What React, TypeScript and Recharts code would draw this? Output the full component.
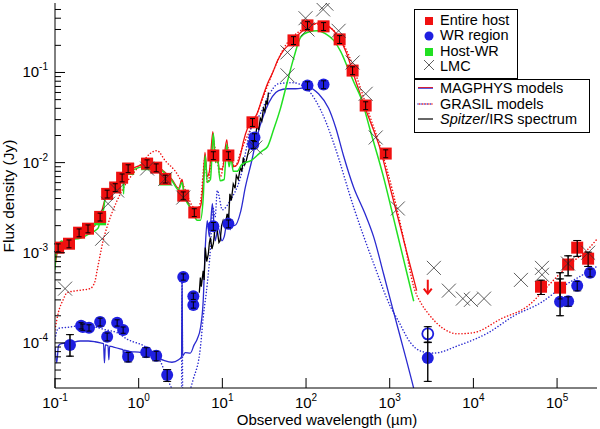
import React from "react";
import { ComposedChart, Line, Scatter, XAxis, YAxis, ErrorBar } from "recharts";

const FONT = "'Liberation Sans', Arial, Helvetica, sans-serif";
const RED = "#f01010";
const BLUE = "#1f1fe0";
const BLUE_LINE = "#2a2ad0";
const GREEN = "#22e022";

// photometry: entire host (red squares)
const hostLam = [0.109, 0.147, 0.194, 0.248, 0.346, 0.42, 0.524, 0.634, 0.748, 1.26, 1.62, 2.08, 3.41, 4.62, 7.8, 11.8, 22.9, 70.8, 104, 162, 252, 360, 516, 896, 64300, 108600, 135500, 174000, 235000];
const hostFlux = [1.14e-3, 1.26e-3, 1.67e-3, 1.85e-3, 2.5e-3, 4.5e-3, 5.3e-3, 6.8e-3, 8.6e-3, 9.75e-3, 8.8e-3, 6.6e-3, 4.3e-3, 2.8e-3, 1.2e-2, 1.2e-2, 2.8e-2, 0.227, 0.333, 0.325, 0.233, 0.105, 0.043, 0.0126, 4.2e-4, 4.1e-4, 7.4e-4, 1.14e-3, 8.6e-4];
const hostErr = [0.1, 0.1, 0.1, 0.1, 0.1, 0.1, 0.1, 0.1, 0.1, 0.1, 0.1, 0.1, 0.1, 0.1, 0.1, 0.1, 0.1, 0.1, 0.1, 0.1, 0.1, 0.1, 0.1, 0.1, 0.18, 0.25, 0.25, 0.2, 0.18];
// upper limit (arrow)
const hostLimLam = [2850];
const hostLimFlux = [4.2e-4];

// WR region (blue circles)
const wrLam = [0.151, 0.205, 0.215, 0.255, 0.346, 0.42, 0.553, 0.652, 0.748, 1.23, 1.62, 2.19, 3.41, 4.5, 4.5, 7.8, 11.8, 24.2, 23.4, 104, 162, 2850, 108600, 135500, 174000, 248000];
const wrFlux = [9.5e-5, 1.55e-4, 1.5e-4, 1.47e-4, 1.71e-4, 1.17e-4, 1.67e-4, 1.39e-4, 7.0e-5, 7.9e-5, 7.2e-5, 4.4e-5, 5.4e-4, 3.3e-4, 2.64e-4, 1.97e-3, 2.1e-3, 1.9e-2, 1.6e-2, 0.0717, 0.0735, 6.8e-5, 2.86e-4, 2.9e-4, 4.3e-4, 6.0e-4];
const wrErrLo = [0.25, 0.08, 0.08, 0.08, 0.1, 0.1, 0.08, 0.08, 0.12, 0.12, 0.12, 0.15, 0.08, 0.08, 0.08, 0.1, 0.1, 0.1, 0.1, 0.1, 0.1, 0.45, 0.3, 0.12, 0.12, 0.1];
const wrErrHi = [0.3, 0.08, 0.08, 0.08, 0.1, 0.1, 0.08, 0.08, 0.12, 0.12, 0.12, 0.15, 0.08, 0.08, 0.08, 0.1, 0.1, 0.1, 0.1, 0.1, 0.1, 0.5, 1.1, 0.12, 0.12, 0.1];
const wrOpenLam = [2850];
const wrOpenFlux = [1.26e-4];

// host minus WR (green squares, mostly under the red ones)
const diffLam = [0.346, 0.748, 1.26, 2.08];
const diffFlux = [2.35e-3, 8.5e-3, 9.6e-3, 6.5e-3];

// LMC scaled (crosses)
const lmcLam = [0.132, 0.366, 0.431, 0.553, 1.26, 2.08, 3.41, 24.8, 60, 60, 98.6, 104, 160, 175, 245, 360, 516, 680, 1250, 3370, 5090, 7480, 9330, 13400, 37000, 66000, 66000, 135000, 235000];
const lmcFlux = [4.0e-4, 1.43e-3, 3.5e-3, 4.9e-3, 8.6e-3, 6.6e-3, 4.1e-3, 1.47e-2, 0.167, 0.093, 0.4, 0.3, 0.5, 0.58, 0.29, 0.129, 0.058, 0.019, 3.1e-3, 6.8e-4, 3.8e-4, 3.1e-4, 3.0e-4, 3.1e-4, 5.0e-4, 6.8e-4, 5.7e-4, 7.6e-4, 1.0e-3];

// MAGPHYS host (red solid)
const magHostLam = [0.1, 0.105, 0.11, 0.13, 0.16, 0.2, 0.25, 0.3, 0.35, 0.4, 0.45, 0.5, 0.6, 0.7, 0.8, 1.0, 1.3, 1.6, 2.0, 2.5, 3.0, 3.3, 3.5, 4.0, 4.5, 5.0, 5.5, 5.9, 6.2, 6.6, 7.0, 7.7, 8.2, 8.6, 9.2, 10, 11.3, 12, 12.7, 13.5, 15, 16.4, 17.8, 20, 23, 26, 30, 34.6, 40, 45.7, 55, 65, 80, 100, 120, 141, 170, 214, 250, 300, 392, 500, 600, 780, 1000, 1356, 1700, 2100];
const magHostFlux = [7e-4, 9.5e-4, 1.15e-3, 1.3e-3, 1.4e-3, 1.55e-3, 1.75e-3, 2.0e-3, 2.6e-3, 4.0e-3, 4.8e-3, 5.5e-3, 6.6e-3, 7.5e-3, 8.3e-3, 9.2e-3, 9.6e-3, 9.3e-3, 8.0e-3, 6.5e-3, 5.2e-3, 6.5e-3, 4.5e-3, 3.4e-3, 2.9e-3, 2.9e-3, 3.3e-3, 6e-3, 1.3e-2, 7e-3, 8e-3, 2.2e-2, 1.1e-2, 1.3e-2, 8.5e-3, 8.5e-3, 1.8e-2, 1.0e-2, 1.3e-2, 9e-3, 9.5e-3, 1.2e-2, 1.7e-2, 2.4e-2, 2.9e-2, 3.5e-2, 5.2e-2, 7.5e-2, 0.1, 0.136, 0.18, 0.21, 0.26, 0.31, 0.34, 0.355, 0.34, 0.29, 0.24, 0.17, 0.081, 0.042, 0.027, 0.0136, 5.5e-3, 1.85e-3, 8.1e-4, 3.8e-4];

// MAGPHYS host-WR (green solid)
const magDiffLam = [0.1, 0.103, 0.11, 0.12, 0.13, 0.15, 0.2, 0.25, 0.3, 0.33, 0.36, 0.38, 0.4, 0.45, 0.5, 0.55, 0.6, 0.65, 0.66, 0.67, 0.8, 1.0, 1.3, 1.6, 2.0, 2.5, 3.0, 3.3, 3.5, 4.0, 4.5, 5.0, 5.46, 5.9, 6.25, 6.6, 7.2, 7.8, 8.3, 8.7, 9.4, 10.5, 11.3, 12.0, 12.7, 13.5, 15, 17, 18.8, 22, 26, 30, 34.6, 40.8, 49.5, 60, 72, 86, 105, 137, 170, 214, 260, 314, 380, 450, 600, 824, 1200, 1600, 1936];
const magDiffFlux = [6.5e-4, 1.0e-3, 1.2e-3, 1.35e-3, 1.3e-3, 1.4e-3, 1.45e-3, 1.6e-3, 1.75e-3, 1.9e-3, 2.8e-3, 3.0e-3, 4.2e-3, 4.6e-3, 5.4e-3, 6e-3, 6.4e-3, 6.8e-3, 4.5e-3, 7e-3, 8.0e-3, 8.8e-3, 9.3e-3, 9.2e-3, 7.8e-3, 6.3e-3, 5.0e-3, 6e-3, 4.3e-3, 3.3e-3, 2.7e-3, 2.3e-3, 2.3e-3, 4e-3, 1.2e-2, 6e-3, 6.5e-3, 2.1e-2, 1e-2, 1.2e-2, 6.3e-3, 6.5e-3, 1.6e-2, 9e-3, 1.1e-2, 8e-3, 8e-3, 9.5e-3, 1e-2, 1.05e-2, 1.2e-2, 1.35e-2, 1.5e-2, 2.3e-2, 4e-2, 0.08, 0.15, 0.245, 0.28, 0.29, 0.27, 0.227, 0.17, 0.114, 0.075, 0.053, 0.021, 7.5e-3, 1.8e-3, 6e-4, 2.9e-4];

// MAGPHYS WR (blue solid)
const magWrLam = [0.1, 0.105, 0.11, 0.12, 0.15, 0.2, 0.25, 0.3, 0.35, 0.38, 0.39, 0.4, 0.43, 0.44, 0.45, 0.5, 0.6, 0.65, 0.66, 0.67, 0.8, 1.0, 1.3, 1.6, 2.0, 2.5, 3.0, 3.25, 3.3, 3.35, 3.6, 4.14, 4.6, 5.0, 5.5, 5.9, 6.25, 6.6, 7.0, 7.6, 8.2, 8.9, 9.9, 10.5, 11.8, 12.4, 13, 14, 16.6, 18.8, 22.9, 24.8, 32.7, 46.9, 60, 74.9, 107, 141, 186, 226, 280, 371, 500, 643, 850, 1086, 1500, 1940, 2100];
const magWrFlux = [9e-5, 6e-5, 9.3e-5, 9.8e-5, 1.0e-4, 1.05e-4, 1.05e-4, 1.03e-4, 1.0e-4, 9.8e-5, 6e-5, 9.5e-5, 9.3e-5, 6.5e-5, 9.2e-5, 9.0e-5, 8.6e-5, 8.4e-5, 6.5e-5, 8.3e-5, 8.0e-5, 7.9e-5, 7.4e-5, 7.0e-5, 6.4e-5, 6.1e-5, 6.5e-5, 7e-5, 5.4e-4, 7.2e-5, 7.8e-5, 7.7e-5, 9.5e-5, 1.1e-4, 1.5e-4, 2.9e-4, 1.14e-3, 2.27e-3, 1.5e-3, 3.5e-3, 1.36e-3, 1.9e-3, 1.36e-3, 1.5e-3, 2.7e-3, 1.8e-3, 2.1e-3, 2.0e-3, 2.9e-3, 5.3e-3, 1.14e-2, 1.63e-2, 3.8e-2, 6.3e-2, 6.6e-2, 6.6e-2, 6.8e-2, 5.8e-2, 4.0e-2, 2.45e-2, 1.2e-2, 5.3e-3, 2.8e-3, 1.5e-3, 5.7e-4, 2.4e-4, 7.8e-5, 3.1e-5, 2.3e-5];

// GRASIL host (red dotted)
const grHostLam = [0.1, 0.11, 0.125, 0.139, 0.183, 0.262, 0.3, 0.318, 0.376, 0.456, 0.553, 0.7, 0.9, 1.1, 1.37, 1.65, 2.08, 2.88, 3.41, 4.5, 5.0, 5.5, 6.2, 6.6, 7.0, 7.7, 8.6, 9.5, 11.3, 12.7, 14, 17, 20, 25, 30, 40, 55, 70, 90, 120, 150, 200, 260, 330, 420, 560, 780, 1100, 1500, 1936, 2400, 2850, 4430, 6520, 10140, 21400, 45000, 78000, 135500, 235000, 310000];
const grHostFlux = [1.4e-4, 2.2e-4, 3.0e-4, 3.6e-4, 3.8e-4, 4.0e-4, 4.8e-4, 6.3e-4, 1.36e-3, 2.45e-3, 3.8e-3, 5.8e-3, 8e-3, 1.0e-2, 1.26e-2, 1.36e-2, 1.05e-2, 7.5e-3, 5.6e-3, 3.2e-3, 3.0e-3, 3.8e-3, 1.1e-2, 6e-3, 7e-3, 1.8e-2, 1.1e-2, 7e-3, 1.5e-2, 1.2e-2, 9e-3, 1.4e-2, 2e-2, 3.2e-2, 5e-2, 0.1, 0.19, 0.25, 0.3, 0.34, 0.345, 0.31, 0.23, 0.15, 0.08, 0.036, 0.0145, 4.6e-3, 1.3e-3, 4.2e-4, 2.7e-4, 2.15e-4, 1.43e-4, 1.26e-4, 1.3e-4, 1.85e-4, 2.58e-4, 4.3e-4, 7.2e-4, 1.1e-3, 1.47e-3];

// GRASIL WR (blue dotted)
const grWrLam = [0.1, 0.109, 0.15, 0.2, 0.3, 0.4, 0.55, 0.727, 1.26, 1.81, 2.25, 2.59, 3.0, 3.25, 3.3, 3.36, 3.6, 4.5, 5.46, 5.9, 6.6, 7.2, 7.7, 8.2, 8.7, 10, 12.4, 16.4, 21.6, 28.5, 35.6, 46.9, 68.9, 98.6, 130, 171, 214, 371, 643, 1028, 1250, 1780, 2350, 3360, 6520, 14900, 30600, 64300, 121000, 210000, 310000];
const grWrFlux = [1.1e-4, 1.45e-4, 1.5e-4, 1.55e-4, 1.5e-4, 1.4e-4, 1.3e-4, 1.1e-4, 8.8e-5, 6.3e-5, 3.8e-5, 2.9e-5, 2.2e-5, 3e-5, 5.4e-4, 3e-5, 2.4e-5, 4e-5, 8.8e-5, 1.9e-4, 4.5e-4, 1.1e-3, 3.2e-3, 2.5e-3, 4.9e-3, 3e-3, 3.8e-3, 6.8e-3, 2.27e-2, 0.035, 0.055, 0.075, 0.077, 0.068, 0.049, 0.029, 0.0165, 3.2e-3, 7.6e-4, 2.5e-4, 1.8e-4, 1.0e-4, 8.1e-5, 7.7e-5, 9.3e-5, 1.29e-4, 2.0e-4, 2.8e-4, 4.3e-4, 5.8e-4, 7.2e-4];

// Spitzer/IRS spectrum (black)
const irsLam = [5.3, 5.46, 5.6, 5.9, 6.05, 6.25, 6.5, 6.8, 7.0, 7.2, 7.5, 7.8, 8.2, 8.7, 9.1, 9.4, 9.8, 10.2, 10.7, 11.4, 11.9, 12.3, 12.8, 13.5, 14.2, 14.7, 15.5, 16.4, 17.1, 17.8, 18.5, 19.3, 20.4, 21.5, 22.4, 23.4, 24.5, 26, 27.2, 28.4, 29.6, 31, 32.2, 33.4, 34.4, 35.5];
const irsFlux = [3.6e-4, 5.3e-4, 4.2e-4, 6.3e-4, 5e-4, 1.14e-3, 8e-4, 9.7e-4, 1.3e-3, 1.47e-3, 1.1e-3, 1.26e-3, 1.9e-3, 1.75e-3, 1.3e-3, 1.36e-3, 2.0e-3, 2.27e-3, 1.9e-3, 2.7e-3, 2.4e-3, 4.5e-3, 3.8e-3, 5.8e-3, 5.2e-3, 7.2e-3, 6.5e-3, 8.8e-3, 8e-3, 1.14e-2, 9.5e-3, 1.05e-2, 1.3e-2, 1.55e-2, 1.4e-2, 1.9e-2, 1.75e-2, 2.6e-2, 2.3e-2, 3.1e-2, 2.9e-2, 4e-2, 3.7e-2, 4.9e-2, 4.4e-2, 6e-2];

// axes
const xDomain = [0.1, 3e5];
const yDomain = [3.16e-5, 0.59];
const xTicks = [0.1, 1, 10, 100, 1000, 1e4, 1e5];
const yMajor = [1e-4, 1e-3, 1e-2, 1e-1];
const yTicks = [
  ...[4, 5, 6, 7, 8, 9].map((m) => m * 1e-5),
  ...yMajor.flatMap((d) => [1, 2, 3, 4, 5, 6, 7, 8, 9].map((m) => m * d)),
].filter((v) => v <= yDomain[1]);

const CHART_H = 429;
const MARGIN = { top: 3, right: 3, bottom: 0, left: 0 };
const X_AXIS_H = 41;
// pixels per decade on the log y axis (plot height over the domain span)
const PLOT_H = CHART_H - MARGIN.top - X_AXIS_H;
const PX_PER_DEC = PLOT_H / Math.log10(yDomain[1] / yDomain[0]);

const toPts = (lam: number[], flux: number[]) => lam.map((l, i) => ({ lam: l, flux: flux[i] }));
const toErrPts = (lam: number[], flux: number[], lo: number[], hi: number[]) =>
  lam.map((l, i) => ({ lam: l, flux: flux[i], err: [flux[i] * lo[i], flux[i] * hi[i]] }));

const expOf = (v: number) => Math.round(Math.log10(v));
const isMajor = (v: number) => Math.abs(Math.log10(v) - expOf(v)) < 1e-6;

const BottomTick = (p: any) => (
  <g>
    <line x1={p.x} x2={p.x} y1={p.y} y2={p.y - 10} stroke="#000" />
    <text x={p.x} y={p.y + 20} textAnchor="middle" fontSize={15} fontFamily={FONT} fill="#000">
      10<tspan dy={-7} fontSize={10}>{expOf(p.payload.value)}</tspan>
    </text>
  </g>
);
const TopTick = (p: any) => <line x1={p.x} x2={p.x} y1={p.y} y2={p.y + 10} stroke="#000" />;
const LeftTick = (p: any) => {
  const major = isMajor(p.payload.value);
  return (
    <g>
      <line x1={p.x} x2={p.x + (major ? 10 : 6)} y1={p.y} y2={p.y} stroke="#000" />
      {major && (
        <text x={p.x - 7} y={p.y + 5} textAnchor="end" fontSize={15} fontFamily={FONT} fill="#000">
          10<tspan dy={-7} fontSize={10}>{expOf(p.payload.value)}</tspan>
        </text>
      )}
    </g>
  );
};
const RightTick = (p: any) => {
  const major = isMajor(p.payload.value);
  return <line x1={p.x} x2={p.x - (major ? 10 : 6)} y1={p.y} y2={p.y} stroke="#000" />;
};

const Square = (color: string, s: number) => (p: any) => (
  <rect x={p.cx - s / 2} y={p.cy - s / 2} width={s} height={s} fill={color} />
);
const Dot = (p: any) => <circle cx={p.cx} cy={p.cy} r={6} fill={BLUE} />;
const OpenDot = (p: any) => <circle cx={p.cx} cy={p.cy} r={5.5} fill="none" stroke={BLUE} strokeWidth={1.8} />;
const Cross = (p: any) => (
  <path d={`M${p.cx - 7},${p.cy - 7}L${p.cx + 7},${p.cy + 7}M${p.cx - 7},${p.cy + 7}L${p.cx + 7},${p.cy - 7}`} stroke="#333" strokeWidth={0.8} fill="none" />
);
const Arrow = (p: any) => (
  <g stroke={RED} strokeWidth={2} fill="none">
    <path d={`M${p.cx},${p.cy - 7}L${p.cx},${p.cy + 6}`} />
    <path d={`M${p.cx - 4},${p.cy + 2}L${p.cx},${p.cy + 7}L${p.cx + 4},${p.cy + 2}`} />
  </g>
);
// error bar drawn on top of the markers: offsets from the point on the log axis
const ErrShape = (p: any) => {
  const d = p.payload || {};
  if (!d.err) return <g />;
  const yLo = p.cy + PX_PER_DEC * Math.log10(d.flux / (d.flux - d.err[0]));
  const yHi = p.cy - PX_PER_DEC * Math.log10((d.flux + d.err[1]) / d.flux);
  return (
    <g stroke="#000" strokeWidth={1}>
      <line x1={p.cx} x2={p.cx} y1={yLo} y2={yHi} />
      <line x1={p.cx - 2.5} x2={p.cx + 2.5} y1={yLo} y2={yLo} />
      <line x1={p.cx - 2.5} x2={p.cx + 2.5} y1={yHi} y2={yHi} />
    </g>
  );
};

const Legend = () => (
  <svg width={600} height={429} style={{ position: "absolute", left: 0, top: 0, pointerEvents: "none" }}>
    <g fontFamily={FONT} fontSize={14.5} fill="#000">
      <rect x={414.5} y={9.5} width={103} height={69} fill="#fff" stroke="#000" />
      <rect x={414.5} y={79.5} width={175} height={53} fill="#fff" stroke="#000" />
      <rect x={425} y={17} width={8} height={8} fill={RED} />
      <circle cx={429} cy={36} r={4.5} fill={BLUE} />
      <rect x={425} y={48} width={8} height={8} fill={GREEN} />
      <path d="M424,60L434,70M424,70L434,60" stroke="#333" strokeWidth={0.8} />
      <text x={440} y={25}>Entire host</text>
      <text x={440} y={40}>WR region</text>
      <text x={440} y={56}>Host-WR</text>
      <text x={440} y={71}>LMC</text>
      <line x1={418} x2={433} y1={88} y2={88} stroke={BLUE_LINE} strokeWidth={1.5} />
      <line x1={418} x2={433} y1={87.5} y2={87.5} stroke={RED} strokeWidth={0.8} />
      <line x1={418} x2={433} y1={104} y2={104} stroke={BLUE_LINE} strokeWidth={1.4} strokeDasharray="0.1 3" strokeLinecap="round" />
      <line x1={419.5} x2={433} y1={104} y2={104} stroke={RED} strokeWidth={1.4} strokeDasharray="0.1 3" strokeLinecap="round" />
      <line x1={418} x2={433} y1={119} y2={119} stroke="#000" strokeWidth={1.2} />
      <text x={440} y={93}>MAGPHYS models</text>
      <text x={440} y={109}>GRASIL models</text>
      <text x={440} y={124}>
        <tspan fontStyle="italic">Spitzer</tspan>/IRS spectrum
      </text>
    </g>
    <text x={327} y={425} textAnchor="middle" fontFamily={FONT} fontSize={15} fill="#000">
      Observed wavelength (µm)
    </text>
    <text x={14} y={196} textAnchor="middle" fontFamily={FONT} fontSize={15.5} fill="#000" transform="rotate(-90 14 196)">
      Flux density (Jy)
    </text>
  </svg>
);

const dotted = { strokeDasharray: "0.1 3", strokeLinecap: "round" as const, strokeWidth: 1.5 };

export default function App() {
  const host = toErrPts(hostLam, hostFlux, hostErr, hostErr);
  const wr = toErrPts(wrLam, wrFlux, wrErrLo, wrErrHi);
  const wrOpen = toErrPts(wrOpenLam, wrOpenFlux, [0.2], [0.2]);
  const ax = { xAxisId: "x", yAxisId: "y" };
  return (
    <div style={{ position: "absolute", left: 0, top: 0, width: 600, height: CHART_H, background: "#fff" }}>
      <ComposedChart width={600} height={CHART_H} margin={MARGIN}>
        <XAxis xAxisId="x" type="number" dataKey="lam" scale="log" domain={xDomain} allowDataOverflow ticks={xTicks} interval={0}
          height={X_AXIS_H} tickSize={0} tickMargin={0} tickLine={false} axisLine={{ stroke: "#000" }} tick={BottomTick} />
        <XAxis xAxisId="top" orientation="top" type="number" scale="log" domain={xDomain} allowDataOverflow ticks={xTicks} interval={0}
          height={0} tickSize={0} tickMargin={0} tickLine={false} axisLine={{ stroke: "#000" }} tick={TopTick} />
        <YAxis yAxisId="y" type="number" dataKey="flux" scale="log" domain={yDomain} allowDataOverflow ticks={yTicks} interval={0}
          width={55} tickSize={0} tickMargin={0} tickLine={false} axisLine={{ stroke: "#000" }} tick={LeftTick} />
        <YAxis yAxisId="right" orientation="right" type="number" scale="log" domain={yDomain} allowDataOverflow ticks={yTicks} interval={0}
          width={0} tickSize={0} tickMargin={0} tickLine={false} axisLine={{ stroke: "#000" }} tick={RightTick} />

        <Line {...ax} data={toPts(grHostLam, grHostFlux)} dataKey="flux" type="monotone" stroke={RED} {...dotted} dot={false} activeDot={false} isAnimationActive={false} />
        <Line {...ax} data={toPts(grWrLam, grWrFlux)} dataKey="flux" type="monotone" stroke={BLUE_LINE} {...dotted} dot={false} activeDot={false} isAnimationActive={false} />
        <Line {...ax} data={toPts(magWrLam, magWrFlux)} dataKey="flux" type="monotone" stroke={BLUE_LINE} strokeWidth={1.3} dot={false} activeDot={false} isAnimationActive={false} />
        <Line {...ax} data={toPts(magHostLam, magHostFlux)} dataKey="flux" type="monotone" stroke={RED} strokeWidth={1.3} dot={false} activeDot={false} isAnimationActive={false} />
        <Line {...ax} data={toPts(irsLam, irsFlux)} dataKey="flux" type="linear" stroke="#000" strokeWidth={1.3} dot={false} activeDot={false} isAnimationActive={false} />
        <Line {...ax} data={toPts(magDiffLam, magDiffFlux)} dataKey="flux" type="monotone" stroke={GREEN} strokeWidth={1.5} dot={false} activeDot={false} isAnimationActive={false} />

        <Scatter {...ax} data={toPts(diffLam, diffFlux)} shape={Square(GREEN, 12)} isAnimationActive={false} />
        <Scatter {...ax} data={wr} shape={Dot} isAnimationActive={false} />
        <Scatter {...ax} data={wrOpen} shape={OpenDot} isAnimationActive={false} />
        <Scatter {...ax} data={host} shape={Square(RED, 12)} isAnimationActive={false} />
        <Scatter {...ax} data={toPts(hostLimLam, hostLimFlux)} shape={Arrow} isAnimationActive={false} />
        <Scatter {...ax} data={toPts(lmcLam, lmcFlux)} shape={Cross} isAnimationActive={false} />

        <Scatter {...ax} data={host} shape={ErrShape} isAnimationActive={false}>
          <ErrorBar dataKey="err" direction="y" width={4} stroke="#000" strokeWidth={1} />
        </Scatter>
        <Scatter {...ax} data={wr} shape={ErrShape} isAnimationActive={false}>
          <ErrorBar dataKey="err" direction="y" width={4} stroke="#000" strokeWidth={1} />
        </Scatter>
        <Scatter {...ax} data={wrOpen} shape={ErrShape} isAnimationActive={false}>
          <ErrorBar dataKey="err" direction="y" width={4} stroke="#000" strokeWidth={1} />
        </Scatter>
      </ComposedChart>
      <Legend />
    </div>
  );
}
